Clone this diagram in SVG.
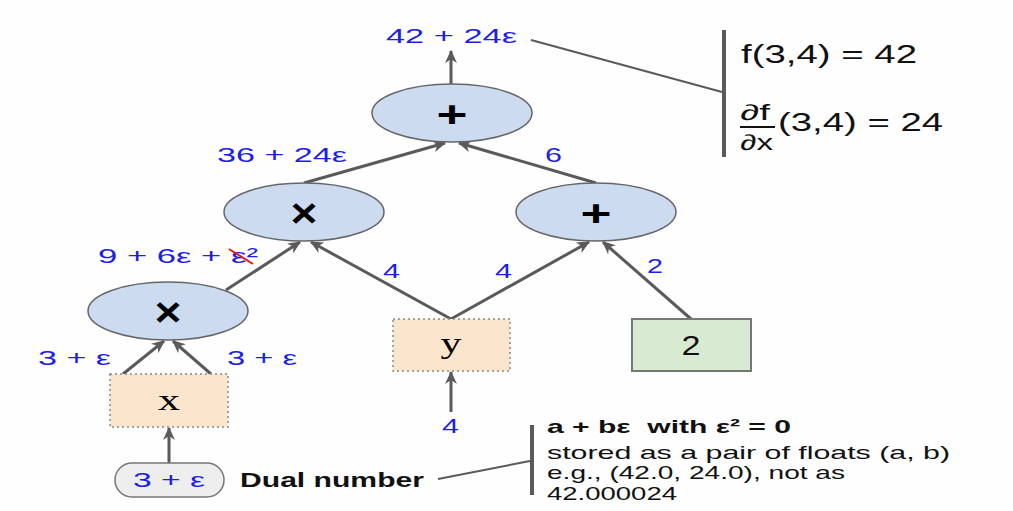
<svg xmlns="http://www.w3.org/2000/svg" width="1013" height="511" viewBox="0 0 1013 511">
<style>
text{font-family:"Liberation Sans",Arial,sans-serif}
.lbl{fill:#1d1deb;font-size:21px}
.op{fill:#000;font-weight:bold;text-anchor:middle}
.ell{fill:#cddbf1;stroke:#666;stroke-width:1.5}
.in{fill:#fce5cd;stroke:#888;stroke-width:1.5;stroke-dasharray:2 3}
.var{font-family:"Liberation Serif","Times New Roman",serif;font-size:30px;text-anchor:middle;fill:#000}
.edge{stroke:#5a5a5a;stroke-width:3;fill:none;marker-end:url(#ah)}
.ln{stroke:#5a5a5a;stroke-width:2;fill:none}
.bar{stroke:#5a5a5a;stroke-width:4}
.note{font-size:18.5px;fill:#111}
.math{font-size:25px;fill:#111}
</style>
<defs>
<marker id="ah" viewBox="0 0 12 12" refX="11" refY="6" markerWidth="13" markerHeight="13" orient="auto" markerUnits="userSpaceOnUse">
<path d="M0,0.5 L12,6 L0,11.5 L3.5,6 z" fill="#5a5a5a"/>
</marker>
</defs>
<rect width="1013" height="511" fill="#fefefe"/>

<g id="connectors">
<line class="edge" x1="451" y1="84" x2="451" y2="51"/>
<line class="edge" x1="304" y1="183" x2="445" y2="143"/>
<line class="edge" x1="596" y1="183" x2="459" y2="143"/>
<line class="edge" x1="226" y1="290" x2="300" y2="242"/>
<line class="edge" x1="451" y1="319" x2="311" y2="242"/>
<line class="edge" x1="451" y1="319" x2="589" y2="242"/>
<line class="edge" x1="691" y1="319" x2="603" y2="242"/>
<line class="edge" x1="123" y1="374" x2="164" y2="341"/>
<line class="edge" x1="211" y1="374" x2="173" y2="341"/>
<line class="edge" x1="451" y1="412" x2="451" y2="372"/>
<line class="edge" x1="169" y1="463" x2="169" y2="428"/>
<line class="ln" x1="531" y1="40" x2="722" y2="92"/>
<line class="ln" x1="438" y1="479" x2="530" y2="461"/>
</g>

<g id="node-top-plus">
<ellipse class="ell" cx="452" cy="113" rx="80" ry="29"/>
<text class="op" x="452" y="127" font-size="36" textLength="31" lengthAdjust="spacingAndGlyphs">+</text>
</g>
<g id="node-mid-times">
<ellipse class="ell" cx="304" cy="212" rx="80" ry="29"/>
<text class="op" x="304" y="227" font-size="40" textLength="27" lengthAdjust="spacingAndGlyphs">×</text>
</g>
<g id="node-mid-plus">
<ellipse class="ell" cx="596" cy="212" rx="80" ry="29"/>
<text class="op" x="596" y="226" font-size="36" textLength="31" lengthAdjust="spacingAndGlyphs">+</text>
</g>
<g id="node-low-times">
<ellipse class="ell" cx="168" cy="311" rx="80" ry="29"/>
<text class="op" x="168" y="326" font-size="40" textLength="27" lengthAdjust="spacingAndGlyphs">×</text>
</g>
<g id="node-x">
<rect class="in" x="110" y="374" width="118" height="53"/>
<text class="var" x="169" y="410" textLength="22" lengthAdjust="spacingAndGlyphs">x</text>
</g>
<g id="node-y">
<rect class="in" x="393" y="319" width="117" height="52"/>
<text class="var" x="451" y="353" textLength="21" lengthAdjust="spacingAndGlyphs">y</text>
</g>
<g id="node-const-2">
<rect x="632" y="319" width="119" height="52" fill="#d9ead3" stroke="#777" stroke-width="2"/>
<text x="691" y="355" font-size="28" text-anchor="middle" textLength="19" lengthAdjust="spacingAndGlyphs" fill="#111">2</text>
</g>
<g id="node-dual">
<rect x="115" y="463" width="109" height="34" rx="17" fill="#eeeeee" stroke="#777" stroke-width="1.5"/>
<text class="lbl" x="133" y="487" textLength="72" lengthAdjust="spacingAndGlyphs">3 + ε</text>
<text x="240" y="487" font-size="20" font-weight="bold" fill="#111" textLength="184" lengthAdjust="spacingAndGlyphs">Dual number</text>
</g>

<g id="labels">
<text class="lbl" x="386" y="43" textLength="131" lengthAdjust="spacingAndGlyphs">42 + 24ε</text>
<text class="lbl" x="217" y="162" textLength="130" lengthAdjust="spacingAndGlyphs">36 + 24ε</text>
<text class="lbl" x="545" y="162" textLength="17" lengthAdjust="spacingAndGlyphs">6</text>
<text class="lbl" x="98" y="263" textLength="160" lengthAdjust="spacingAndGlyphs">9 + 6ε + ε²</text>
<line x1="229" y1="249" x2="253" y2="264" stroke="#e8141c" stroke-width="2"/>
<text class="lbl" x="383" y="278" textLength="17" lengthAdjust="spacingAndGlyphs">4</text>
<text class="lbl" x="495" y="278" textLength="17" lengthAdjust="spacingAndGlyphs">4</text>
<text class="lbl" x="647" y="273" textLength="16" lengthAdjust="spacingAndGlyphs">2</text>
<text class="lbl" x="38" y="365" textLength="73" lengthAdjust="spacingAndGlyphs">3 + ε</text>
<text class="lbl" x="227" y="365" textLength="70" lengthAdjust="spacingAndGlyphs">3 + ε</text>
<text class="lbl" x="442" y="433" textLength="17" lengthAdjust="spacingAndGlyphs">4</text>
</g>

<g id="note-result">
<line class="bar" x1="724" y1="30" x2="724" y2="157"/>
<text class="math" x="741" y="63" textLength="176" lengthAdjust="spacingAndGlyphs">f(3,4) = 42</text>
<text x="740" y="120" font-size="22" fill="#111" textLength="30" lengthAdjust="spacingAndGlyphs">∂f</text>
<line x1="740" y1="127" x2="775" y2="127" stroke="#111" stroke-width="2"/>
<text x="740" y="150" font-size="22" fill="#111" textLength="33" lengthAdjust="spacingAndGlyphs">∂x</text>
<text class="math" x="778" y="131" textLength="165" lengthAdjust="spacingAndGlyphs">(3,4) = 24</text>
</g>

<g id="note-dual">
<line class="bar" x1="532" y1="425" x2="532" y2="495"/>
<text class="note" x="547" y="433" font-weight="bold" textLength="244" lengthAdjust="spacingAndGlyphs">a + bε &#160;with ε² = 0</text>
<text class="note" x="547" y="459" textLength="403" lengthAdjust="spacingAndGlyphs">stored as a pair of floats (a, b)</text>
<text class="note" x="547" y="479" textLength="298" lengthAdjust="spacingAndGlyphs">e.g., (42.0, 24.0), not as</text>
<text class="note" x="547" y="500" textLength="130" lengthAdjust="spacingAndGlyphs">42.000024</text>
</g>
</svg>
